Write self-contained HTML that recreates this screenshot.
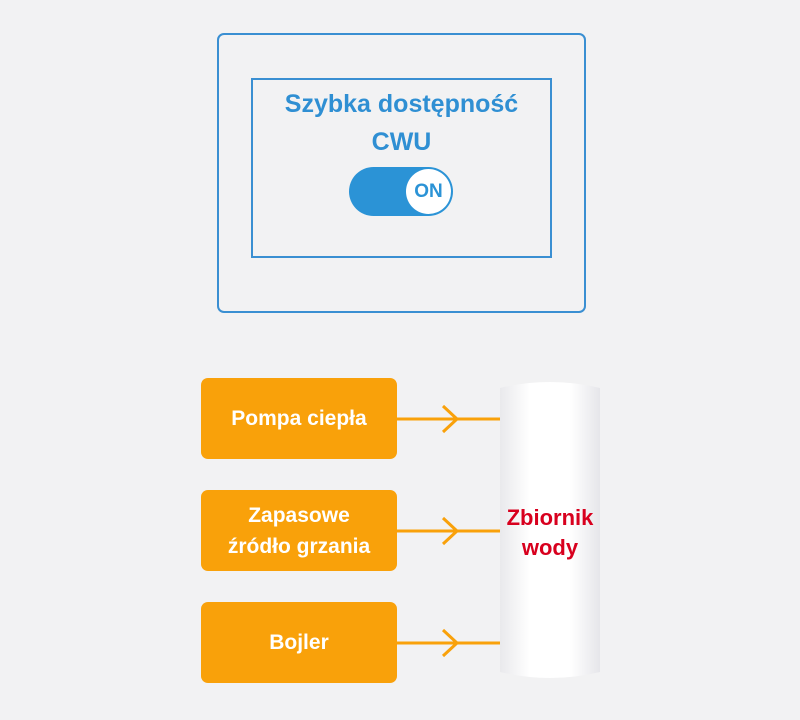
<!DOCTYPE html>
<html><head><meta charset="utf-8"><style>
body{margin:0;width:800px;height:720px;background:#f2f2f3;position:relative;font-family:"Liberation Sans","DejaVu Sans",sans-serif;overflow:hidden}
.a{position:absolute;box-sizing:border-box}
.ob{left:201px;width:196px;height:81px;background:#f9a10a;border-radius:7px;color:#fff;font-weight:bold;font-size:21px;display:flex;align-items:center;justify-content:center;text-align:center;line-height:31px}
</style></head><body>
<div class="a" style="left:217px;top:33px;width:369px;height:280px;border:2px solid #3a8fd2;border-radius:7px"></div>
<div class="a" style="left:251px;top:78px;width:301px;height:180px;border:2px solid #3a8fd2"></div>
<div class="a" style="left:251px;top:85px;width:301px;text-align:center;color:#2f8fd3;font-weight:bold;font-size:25px;line-height:38px">Szybka dostępność<br>CWU</div>
<div class="a" style="left:349px;top:167px;width:104px;height:49px;border-radius:25px;background:#2b93d6"></div>
<div class="a" style="left:406px;top:169px;width:45px;height:45px;border-radius:50%;background:#fff;color:#2b93d6;font-weight:bold;font-size:19px;display:flex;align-items:center;justify-content:center">ON</div>
<div class="a ob" style="top:378px">Pompa ciepła</div>
<div class="a ob" style="top:490px">Zapasowe<br>źródło grzania</div>
<div class="a ob" style="top:602px">Bojler</div>
<svg class="a" style="left:0;top:0" width="800" height="720">
<g stroke="#f9a10a" stroke-width="3" fill="none">
<path d="M397 419H502M443 406L457 419L443 432"/>
<path d="M397 531H502M443 518L457 531L443 544"/>
<path d="M397 643H502M443 630L457 643L443 656"/>
</g>
<defs><linearGradient id="g" x1="0" x2="1"><stop offset="0" stop-color="#e9e9ec"/><stop offset="0.3" stop-color="#fff"/><stop offset="0.7" stop-color="#fff"/><stop offset="1" stop-color="#e6e6ea"/></linearGradient></defs>
<path d="M500 388Q550 376 600 388V672Q550 684 500 672Z" fill="url(#g)"/>
<text x="550" y="525" text-anchor="middle" fill="#d8001e" font-weight="bold" font-size="22" font-family="Liberation Sans,sans-serif">Zbiornik</text>
<text x="550" y="555" text-anchor="middle" fill="#d8001e" font-weight="bold" font-size="22" font-family="Liberation Sans,sans-serif">wody</text>
</svg>
</body></html>
